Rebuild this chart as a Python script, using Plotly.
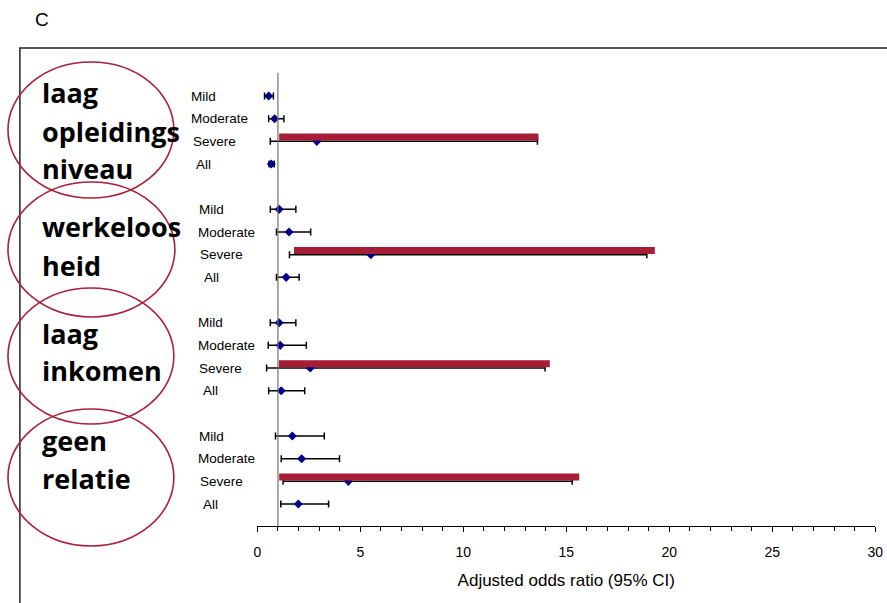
import plotly.graph_objects as go

# ---------------- data ----------------
groups = [["laag", "opleidings", "niveau"], ["werkeloos", "heid"], ["laag", "inkomen"], ["geen", "relatie"]]
rows = ["Mild", "Moderate", "Severe", "All"]

odds = [[0.55, 0.84, 2.89, 0.68],
        [1.06, 1.54, 5.51, 1.40],
        [1.06, 1.11, 2.57, 1.16],
        [1.70, 2.15, 4.42, 1.99]]
ci_low = [[0.35, 0.55, 0.63, 0.57],
          [0.63, 0.93, 1.56, 0.93],
          [0.63, 0.53, 0.45, 0.55],
          [0.88, 1.16, 1.25, 1.14]]
ci_high = [[0.78, 1.29, 13.60, 0.82],
           [1.87, 2.59, 18.91, 2.03],
           [1.87, 2.38, 13.97, 2.30],
           [3.25, 3.99, 15.29, 3.46]]
# red highlight bars over the "Severe" rows
highlight_start = [1.06, 1.78, 1.05, 1.06]
highlight_end = [13.65, 19.30, 14.20, 15.63]

x_ticks = [0, 5, 10, 15, 20, 25, 30]
x_title = "Adjusted odds ratio (95% CI)"
panel_label = "C"

# ---------------- layout helpers ----------------
W, H = 887, 603
def px(x):
    return min(1.0, max(0.0, ((x - 2) / 0.993) / W))
def py(y):
    return 1 - y / H

slots = [[g * 5 + r for r in range(4)] for g in range(4)]

xs, ys, ep, em = [], [], [], []
for g in range(4):
    for r in range(4):
        xs.append(odds[g][r])
        ys.append(slots[g][r])
        ep.append(ci_high[g][r] - odds[g][r])
        em.append(odds[g][r] - ci_low[g][r])

fig = go.Figure()

fig.add_trace(go.Scatter(
    x=xs, y=ys, mode="markers",
    marker=dict(symbol="diamond", size=7, color="#00008B"),
    error_x=dict(type="data", symmetric=False, array=ep, arrayminus=em,
                 color="black", thickness=1.5, width=3.5),
    showlegend=False, hoverinfo="skip"))

hx, hy = [], []
for g in range(4):
    hx += [highlight_start[g], highlight_end[g], None]
    yy = slots[g][2] - 0.19
    hy += [yy, yy, None]
fig.add_trace(go.Scatter(
    x=hx, y=hy, mode="lines",
    line=dict(color="#A61D35", width=7),
    showlegend=False, hoverinfo="skip"))

shapes = []
# reference line at OR = 1
shapes.append(dict(type="line", xref="x", yref="y domain", x0=1, x1=1, y0=0, y1=1,
                   line=dict(color="#707070", width=1.2)))
# outer frame
shapes.append(dict(type="rect", xref="paper", yref="paper",
                   x0=px(18), x1=1.02, y0=py(H + 10), y1=py(48),
                   line=dict(color="#222222", width=1.5)))
# ellipses
ell = [(6, 62, 173, 198), (6, 182, 174, 317), (6, 288, 173, 424), (6, 409, 173, 546)]
for (x0, y0, x1, y1) in ell:
    shapes.append(dict(type="circle", xref="paper", yref="paper",
                       x0=px(x0), x1=px(x1), y0=py(y1), y1=py(y0),
                       line=dict(color="#A8203A", width=1.6)))

annotations = []
annotations.append(dict(text=panel_label, x=px(31), y=py(20), xref="paper", yref="paper",
                        xanchor="left", yanchor="middle", showarrow=False,
                        font=dict(family="Liberation Sans, Arial", size=19, color="black")))

group_text_y = [[93, 131, 168], [227, 265], [333, 370], [440, 478]]
for g in range(4):
    for line_txt, yy in zip(groups[g], group_text_y[g]):
        annotations.append(dict(text="<b>%s</b>" % line_txt, x=px(38), y=py(yy),
                                xref="paper", yref="paper", xanchor="left", yanchor="middle",
                                showarrow=False,
                                font=dict(family="Open Sans", size=27, color="black")))

label_x = [[188, 188, 190, 193], [196, 195, 197, 201], [195, 195, 196, 200], [196, 195, 197, 200]]
for g in range(4):
    for r in range(4):
        annotations.append(dict(text=rows[r], x=px(label_x[g][r]), y=slots[g][r],
                                xref="paper", yref="y", xanchor="left", yanchor="middle",
                                showarrow=False,
                                font=dict(family="Liberation Sans, Arial", size=13.5, color="black")))

fig.update_layout(
    width=W, height=H,
    margin=dict(l=0, r=0, t=0, b=0),
    paper_bgcolor="white", plot_bgcolor="white",
    shapes=shapes, annotations=annotations,
    xaxis=dict(range=[0, 30], domain=[px(257), px(879)],
               tickvals=x_ticks, ticktext=[str(t) for t in x_ticks],
               ticks="outside", ticklen=5, tickcolor="black", tickwidth=1,
               minor=dict(dtick=1, ticks="outside", ticklen=4, tickcolor="black"),
               showline=True, linecolor="black", linewidth=1,
               showgrid=False, zeroline=False,
               ticklabelstandoff=8, ticklabeloverflow="allow",
               tickfont=dict(family="Liberation Sans, Arial", size=14, color="black"),
               title=dict(text=x_title, standoff=15,
                          font=dict(family="Liberation Sans, Arial", size=17, color="black"))),
    yaxis=dict(range=[18.97, -1.03], domain=[py(526), py(72.7)], visible=False,
               showgrid=False, zeroline=False),
)

fig.write_html(
    "out.html",
    config={"displayModeBar": False, "responsive": False},
    post_script=("document.body.style.margin='0px';"
                 "document.body.style.overflow='hidden';"
                 "document.documentElement.style.overflow='hidden';"),
)
